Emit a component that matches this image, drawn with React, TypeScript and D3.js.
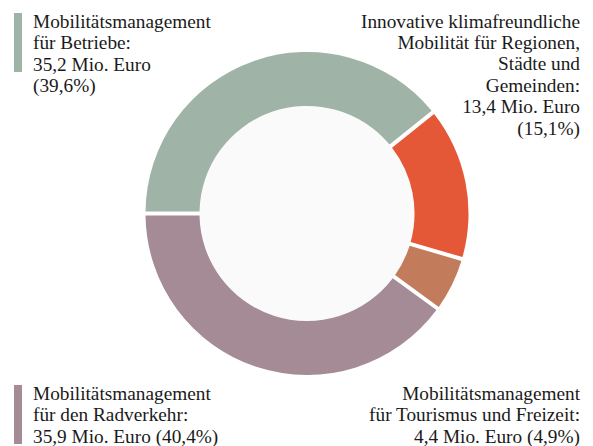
import React from "react";
import * as d3 from "d3";

const categories = [
  "Mobilitätsmanagement für Betriebe",
  "Innovative klimafreundliche Mobilität für Regionen, Städte und Gemeinden",
  "Mobilitätsmanagement für Tourismus und Freizeit",
  "Mobilitätsmanagement für den Radverkehr",
];
const values = [35.2, 13.4, 4.4, 35.9];
const colors = ["#9fb3a6", "#e45837", "#c27b5b", "#a48b96"];

const labelTL = ["Mobilitätsmanagement", "für Betriebe:", "35,2 Mio. Euro", "(39,6%)"];
const labelTR = [
  "Innovative klimafreundliche",
  "Mobilität für Regionen,",
  "Städte und",
  "Gemeinden:",
  "13,4 Mio. Euro",
  "(15,1%)",
];
const labelBL = ["Mobilitätsmanagement", "für den Radverkehr:", "35,9 Mio. Euro (40,4%)"];
const labelBR = ["Mobilitätsmanagement", "für Tourismus und Freizeit:", "4,4 Mio. Euro (4,9%)"];

const W = 593;
const H = 446;
const cx = 307;
const cy = 213.5;
const R = 161.5;
const r = 107.5;
const font = "'Liberation Serif'";
const fs = 19.3;
const lh = 21.4;

export default function App() {
  const pie = d3
    .pie<number>()
    .sort(null)
    .startAngle(-Math.PI / 2)
    .endAngle((3 * Math.PI) / 2)
    .padAngle(0.04);
  const arcs = pie(values);
  const arc = d3.arc<d3.PieArcDatum<number>>().innerRadius(r).outerRadius(R).padRadius(100);

  const lines = (arr: string[], x: number, y0: number, anchor: string) =>
    arr.map((t, i) => (
      <text
        key={i}
        x={x}
        y={y0 + i * lh}
        textAnchor={anchor as any}
        style={{ fontFamily: font, fontSize: fs }}
      >
        {t}
      </text>
    ));

  return (
    <svg
      width={W}
      height={H}
      style={{ position: "absolute", left: 0, top: 0, background: "#fff" }}
    >
      <circle cx={cx} cy={cy} r={r} fill="#fafafa" />
      <g transform={`translate(${cx},${cy})`}>
        {arcs.map((a, i) => (
          <path key={categories[i]} d={arc(a) || ""} fill={colors[i]} />
        ))}
      </g>
      <rect x={14} y={13} width={8} height={59} fill={colors[0]} />
      <rect x={14} y={385} width={8} height={59} fill={colors[3]} />
      <g fill="#1a1a1a">
        {lines(labelTL, 33, 28, "start")}
        {lines(labelTR, 580, 27.5, "end")}
        {lines(labelBL, 33, 400, "start")}
        {lines(labelBR, 580, 400, "end")}
      </g>
    </svg>
  );
}
